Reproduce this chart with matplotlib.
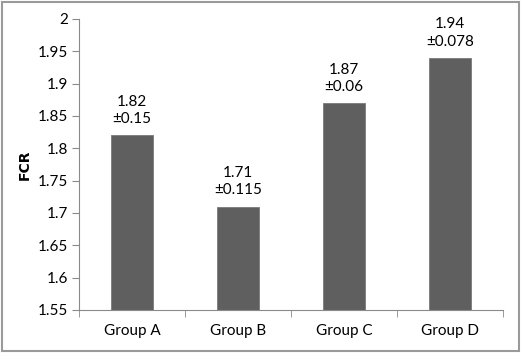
import matplotlib.pyplot as plt
from matplotlib.patches import Rectangle
import numpy as np

groups = ['Group A', 'Group B', 'Group C', 'Group D']
fcr = [1.82, 1.71, 1.87, 1.94]
sd = ['0.15', '0.115', '0.06', '0.078']
yticks = [1.55, 1.6, 1.65, 1.7, 1.75, 1.8, 1.85, 1.9, 1.95, 2]

plt.rcParams['font.family'] = ['Lato', 'DejaVu Sans']

fig = plt.figure(figsize=(5.24, 3.59), dpi=100)
ax = fig.add_axes([79/524, 1-310/359, (503-79)/524, (310-19)/359])

x = np.arange(len(groups))
ax.bar(x, fcr, width=0.4, color='#5f5f5f', edgecolor='#7a7a7a', linewidth=0.6, zorder=2)
for xi, v, s in zip(x, fcr, sd):
    ax.text(xi, v + 0.014, f'{v:.2f}\n±{s}', ha='center', va='bottom',
            fontsize=11, linespacing=1.3, color='#000000')

ax.set_xlim(-0.5, len(groups) - 0.5)
ax.set_ylim(1.55, 2)
ax.set_yticks(yticks)
ax.set_yticklabels([f'{t:g}' for t in yticks])
ax.set_xticks(x)
ax.set_xticklabels(groups)
ax.set_xticks(np.arange(len(groups) + 1) - 0.5, minor=True)
ax.tick_params(axis='x', which='major', length=0, pad=10, labelsize=11)
ax.tick_params(axis='x', which='minor', length=5, color='#8a8a8a', direction='out')
ax.tick_params(axis='y', length=5, color='#8a8a8a', labelsize=11, pad=3)

for side in ['top', 'right']:
    ax.spines[side].set_visible(False)
for side in ['left', 'bottom']:
    ax.spines[side].set_color('#8a8a8a')
    ax.spines[side].set_linewidth(0.8)

ax.set_ylabel('FCR', fontsize=10, fontweight='bold', labelpad=4,
              family=['DejaVu Sans'])

fig.patches.append(Rectangle((2/524, 1-351/359), 517/524, 349/359,
                             transform=fig.transFigure, fill=False,
                             edgecolor='#9a9a9a', linewidth=1.5))

fig.savefig('out.png', dpi=100)
